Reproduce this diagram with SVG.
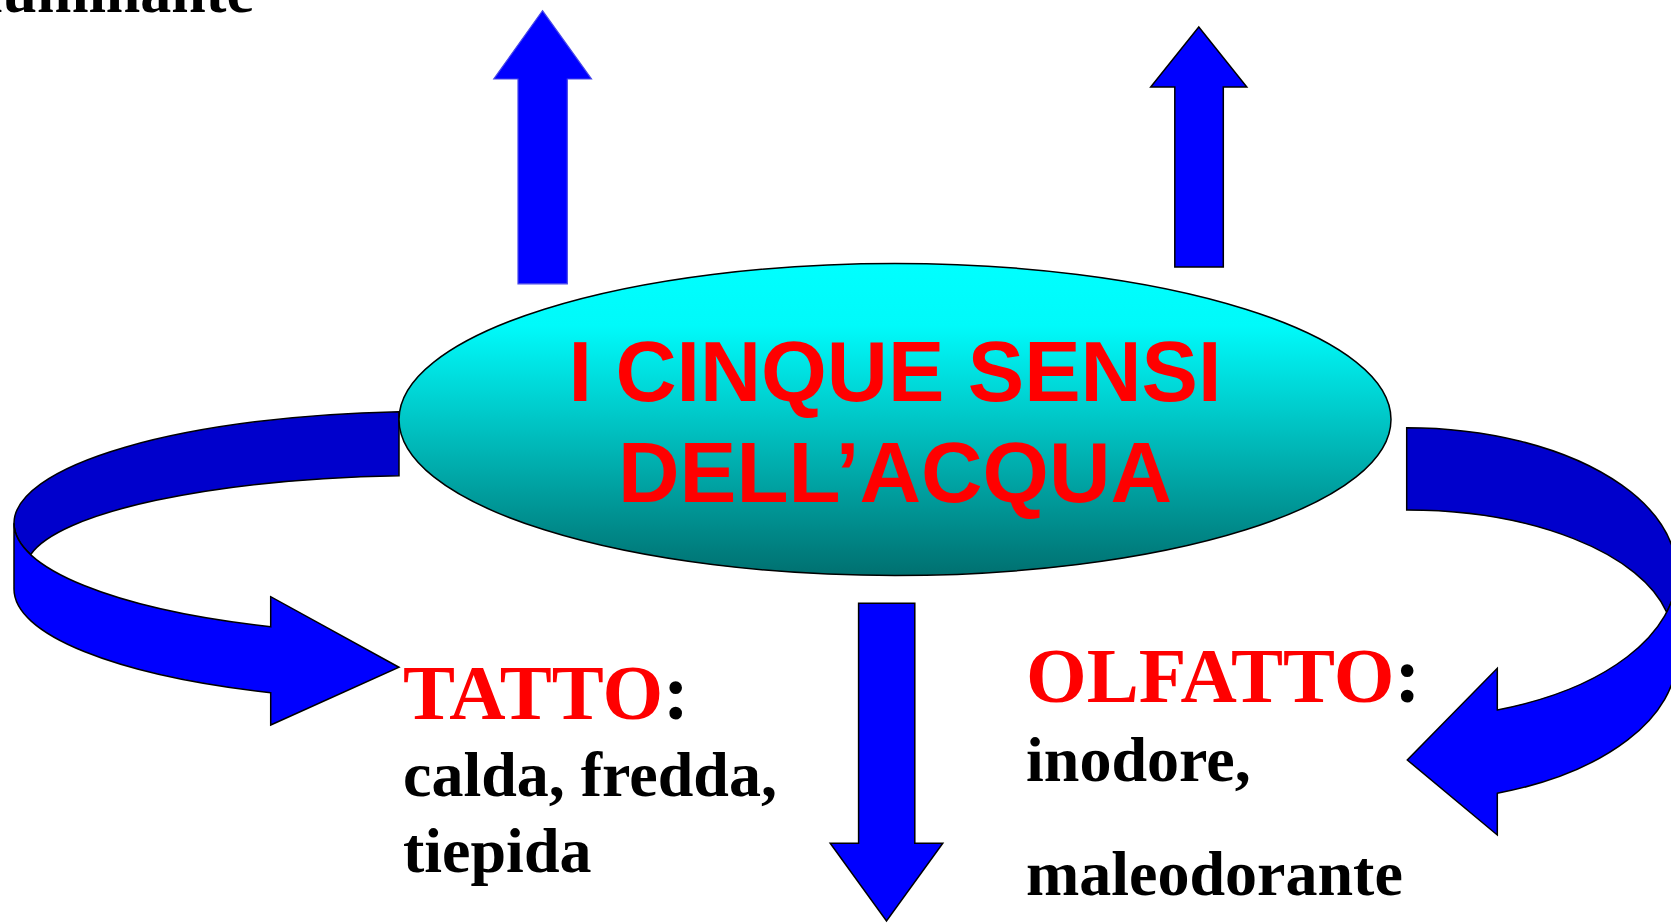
<svg xmlns="http://www.w3.org/2000/svg" width="1671" height="923" viewBox="0 0 1671 923">
<defs>
<linearGradient id="gEll" x1="0" y1="0" x2="0" y2="1">
<stop offset="0" stop-color="#00FFFF"/>
<stop offset="0.2" stop-color="#00FAFA"/>
<stop offset="1" stop-color="#007070"/>
</linearGradient>
<style>
.blk{stroke:#000;stroke-width:1.5;stroke-linejoin:miter}
.dark{fill:#0000CC}
.light{fill:#0000FF}
.serif{font-family:"Liberation Serif","Times New Roman",serif;font-weight:bold}
.sans{font-family:"Liberation Sans",Arial,sans-serif;font-weight:bold}
.red{fill:#FF0000}
.txt{fill:#000}
</style>
</defs>
<rect width="1671" height="923" fill="#FFFFFF"/>

<g id="connectors">
<polygon id="arrow-up-left" points="542.5,10.7 591.5,79 567.3,79 567.3,283.8 518,283.8 518,79 493.8,79" fill="#0000FF" stroke="#4848E8" stroke-width="1.2"/>
<polygon id="arrow-up-right" class="blk light" points="1198.8,27 1246.8,87 1223.3,87 1223.3,267 1174.8,267 1174.8,87 1150.7,87"/>
<polygon id="arrow-down" class="blk light" points="858.6,603.3 914.8,603.3 914.8,843.3 942.8,843.3 886.5,921 830.2,843.3 858.6,843.3"/>
<g id="arrow-curved-left">
<path class="blk dark" d="M399,411.7 A416 112 0 0 0 14,523.3 A416 112 0 0 0 30.7,554.5 A405 94 0 0 1 399,475.7 Z"/>
<path class="blk light" d="M14,523.3 A416 112 0 0 0 270.7,626.8 L270.7,596.7 L399,667.3 L270.7,725 L270.7,692.7 A416 112 0 0 1 14,589.3 Z"/>
</g>
<g id="arrow-curved-right">
<path class="blk dark" d="M1406.7,427.7 A270 145.3 0 0 1 1666.7,612.2 A265.4 130 0 0 0 1406.7,510 Z"/>
<path class="blk light" d="M1676.7,573 A270 145.3 0 0 1 1497.3,709.9 L1497.3,668.3 L1407.3,760 L1497.3,835 L1497.3,793.3 A270 145.3 0 0 0 1676.7,656.4 Z"/>
</g>
</g>

<g id="node-center">
<ellipse cx="895" cy="419.5" rx="496" ry="156" fill="url(#gEll)" stroke="#000" stroke-width="1.5"/>
<text class="sans red" x="895" y="400.7" font-size="86" text-anchor="middle" textLength="653" lengthAdjust="spacingAndGlyphs">I CINQUE SENSI</text>
<text class="sans red" x="895" y="502.3" font-size="86" text-anchor="middle" textLength="554" lengthAdjust="spacingAndGlyphs">DELL’ACQUA</text>
</g>

<g id="node-top-left">
<text class="serif txt" x="254" y="12" font-size="62" text-anchor="end">illuminante</text>
</g>

<g id="node-tatto">
<text class="serif" x="403" y="719" font-size="78"><tspan class="red">TATTO</tspan><tspan class="txt">:</tspan></text>
<text class="serif txt" x="403" y="796" font-size="64">calda, fredda,</text>
<text class="serif txt" x="403" y="871.7" font-size="64">tiepida</text>
</g>

<g id="node-olfatto">
<text class="serif" x="1026" y="702" font-size="78"><tspan class="red">OLFATTO</tspan><tspan class="txt">:</tspan></text>
<text class="serif txt" x="1026" y="780.5" font-size="64">inodore,</text>
<text class="serif txt" x="1026" y="895" font-size="64">maleodorante</text>
</g>
</svg>
